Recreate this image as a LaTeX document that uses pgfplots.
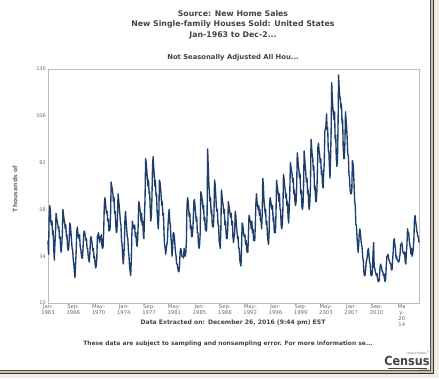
\documentclass[border=0pt]{standalone}
\usepackage{fontspec}
\setmainfont{DejaVu Sans}
\newfontfamily\condfont{DejaVu Sans Condensed}
\usepackage{pgfplots}
\pgfplotsset{compat=1.18}
\definecolor{navy}{HTML}{1E3F6E}
\definecolor{titlegray}{HTML}{444444}
\definecolor{tickgray}{HTML}{6E6E6E}
\definecolor{framegray}{HTML}{BDBDBD}
\definecolor{beige}{HTML}{F1EEE7}
\definecolor{tanline}{HTML}{C8BEA8}
\definecolor{darkA}{HTML}{505050}
\definecolor{darkB}{HTML}{373737}
\begin{document}
\begin{tikzpicture}
\useasboundingbox (0pt,0pt) rectangle (439pt,378pt);
\fill[white] (0pt,0pt) rectangle (439pt,378pt);
\fill[beige] (434pt,0pt) rectangle (439pt,378pt);
\fill[beige] (0pt,0pt) rectangle (439pt,4pt);
\draw[line width=1.6pt, tanline] (432pt,378pt) -- (432pt,6.2pt) -- (0pt,6.2pt);
\draw[line width=1.1pt, darkA] (430.6pt,378pt) -- (430.6pt,7.8pt) -- (0pt,7.8pt);
\draw[line width=1.3pt, darkB] (433.6pt,378pt) -- (433.6pt,4.6pt) -- (0pt,4.6pt);

\node[align=center, text=titlegray, font=\fontsize{7.8}{10.6}\selectfont\bfseries] at (233pt,353.5pt)
  {Source: New Home Sales\\New Single-family Houses Sold: United States\\Jan-1963 to Dec-2...};
\node[text=titlegray, font=\fontsize{6.8}{7.5}\selectfont\bfseries] at (233pt,320.5pt) {Not Seasonally Adjusted All Hou...};
\node[text=titlegray, font=\fontsize{6.1}{7}\selectfont\bfseries] at (233pt,55pt) {Data Extracted on: December 26, 2016 (9:44 pm) EST};
\node[text=titlegray, font=\fontsize{5.95}{7}\selectfont\bfseries] at (228pt,34pt) {These data are subject to sampling and nonsampling error. For more information se...};
\node[rotate=90, text=tickgray, font=\fontsize{6.1}{7}\selectfont\bfseries] at (15pt,189pt) {Thousands of};

\node[text=titlegray, font=\fontsize{12.5}{13}\selectfont\condfont\bfseries, inner sep=0pt] at (407pt,17pt) {Census};
\node[text=tickgray, font=\fontsize{3}{3.5}\selectfont\itshape, inner sep=0pt] at (418pt,25.5pt) {United States\textsuperscript{®}};
\draw[titlegray, line width=0.6pt] (388pt,10.2pt) -- (427pt,10.2pt);
\node[text=tickgray, font=\fontsize{2.5}{3}\selectfont, inner sep=0pt] at (424pt,8.8pt) {Bureau};

\begin{axis}[
  at={(48pt,75pt)}, anchor=south west,
  scale only axis, width=371pt, height=234pt,
  xmin=0, xmax=646, ymin=10, ymax=130,
  ytick={10,34,58,82,106,130},
  xtick={0,44,88,132,176,220,264,308,352,396,440,484,528,572,616},
  xticklabels={{Jan-\\1963},{Sep-\\1966},{May-\\1970},{Jan-\\1974},{Sep-\\1977},{May-\\1981},{Jan-\\1985},{Sep-\\1988},{May-\\1992},{Jan-\\1996},{Sep-\\1999},{May-\\2003},{Jan-\\2007},{Sep-\\2010},{Ma\\y-\\20\\14}},
  major tick length=0pt,
  axis line style={draw=framegray, line width=0.9pt},
  /pgf/number format/assume math mode=true,
  xticklabel style={align=center, text=tickgray, font=\fontsize{5.3}{6}\selectfont, inner sep=1pt, anchor=north, yshift=-0.5pt},
  yticklabel style={text=tickgray, font=\fontsize{5}{5.5}\selectfont, inner sep=1pt, xshift=-1pt},
  clip=false,
]
\addplot[navy, line width=1.35pt, line join=round, mark=none] table[row sep=\\, x expr=\coordindex, y=v] {
v\\
42\\35\\54\\60\\58\\52\\50\\52\\45\\47\\38\\32\\
40\\45\\56\\54\\52\\50\\48\\49\\43\\44\\38\\36\\
40\\46\\58\\55\\53\\51\\48\\50\\44\\45\\39\\37\\
38\\43\\51\\50\\46\\42\\38\\37\\32\\30\\26\\23\\
30\\36\\46\\49\\46\\44\\43\\45\\39\\38\\35\\33\\
33\\38\\45\\47\\46\\44\\42\\43\\38\\38\\34\\32\\
31\\36\\43\\44\\42\\40\\37\\38\\33\\34\\30\\28\\
29\\33\\44\\45\\46\\43\\41\\44\\43\\45\\39\\38\\
39\\47\\60\\64\\62\\58\\56\\57\\52\\53\\47\\47\\
48\\56\\72\\70\\68\\66\\62\\64\\56\\57\\50\\46\\
47\\54\\66\\63\\60\\56\\52\\50\\42\\40\\34\\30\\
34\\40\\53\\57\\52\\48\\44\\43\\37\\34\\29\\26\\
24\\32\\45\\52\\50\\49\\48\\50\\44\\46\\41\\39\\
42\\50\\62\\61\\58\\56\\52\\56\\50\\52\\45\\43\\
55\\64\\84\\82\\78\\74\\70\\73\\66\\67\\58\\52\\
55\\64\\80\\85\\80\\76\\70\\73\\65\\66\\57\\52\\
48\\55\\73\\72\\69\\65\\60\\62\\55\\56\\46\\40\\
38\\35\\38\\40\\42\\50\\55\\58\\52\\50\\44\\40\\
34\\38\\46\\46\\44\\40\\36\\34\\30\\30\\28\\26\\
26\\29\\36\\38\\37\\34\\34\\34\\33\\38\\36\\34\\
36\\42\\60\\64\\62\\58\\54\\56\\48\\50\\44\\44\\
47\\53\\62\\63\\60\\56\\52\\54\\46\\46\\40\\38\\
40\\46\\67\\66\\64\\62\\58\\60\\52\\54\\48\\47\\
47\\55\\89\\80\\72\\66\\62\\64\\56\\58\\50\\49\\
49\\56\\73\\71\\66\\60\\57\\58\\50\\50\\42\\40\\
38\\48\\68\\65\\62\\60\\56\\58\\50\\52\\46\\43\\
43\\48\\62\\60\\58\\56\\54\\56\\50\\52\\44\\41\\
44\\46\\57\\55\\50\\47\\43\\44\\38\\38\\32\\30\\
29\\38\\51\\50\\48\\45\\44\\45\\40\\42\\37\\36\\
36\\45\\55\\54\\52\\51\\48\\52\\46\\48\\42\\42\\
42\\50\\61\\66\\62\\60\\58\\60\\55\\58\\52\\52\\
48\\56\\74\\70\\63\\60\\56\\58\\50\\52\\45\\42\\
40\\46\\62\\64\\62\\60\\58\\60\\52\\54\\46\\46\\
46\\56\\73\\70\\68\\66\\62\\66\\58\\58\\50\\48\\
50\\58\\76\\74\\70\\68\\64\\66\\60\\62\\54\\51\\
58\\66\\82\\80\\78\\76\\72\\74\\66\\68\\62\\60\\
62\\70\\87\\84\\80\\78\\74\\76\\66\\68\\60\\58\\
60\\70\\88\\84\\80\\76\\72\\74\\66\\68\\60\\58\\
62\\70\\94\\90\\86\\84\\78\\80\\68\\70\\62\\62\\
66\\76\\90\\92\\88\\86\\82\\84\\76\\78\\70\\69\\
76\\82\\98\\99\\101\\107\\99\\100\\88\\88\\80\\74\\
84\\98\\123\\115\\110\\108\\104\\108\\94\\96\\84\\80\\
83\\100\\127\\120\\116\\115\\110\\112\\102\\104\\90\\84\\
84\\92\\108\\104\\100\\94\\86\\86\\76\\74\\68\\66\\
66\\68\\83\\82\\78\\70\\62\\60\\50\\50\\44\\40\\
36\\40\\46\\48\\46\\42\\40\\38\\33\\32\\26\\24\\
24\\27\\31\\32\\34\\37\\38\\34\\31\\30\\25\\24\\
24\\27\\36\\41\\28\\28\\26\\25\\24\\25\\22\\21\\
21\\22\\28\\30\\29\\28\\26\\26\\24\\25\\22\\21\\
23\\29\\34\\34\\35\\33\\32\\31\\30\\30\\27\\27\\
32\\36\\42\\43\\40\\38\\33\\34\\32\\32\\31\\31\\
33\\35\\40\\40\\41\\39\\36\\36\\35\\36\\31\\30\\
36\\40\\48\\46\\46\\42\\40\\38\\35\\38\\34\\35\\
38\\42\\52\\55\\52\\50\\47\\46\\44\\44\\41\\
};
\end{axis}
\end{tikzpicture}
\end{document}
